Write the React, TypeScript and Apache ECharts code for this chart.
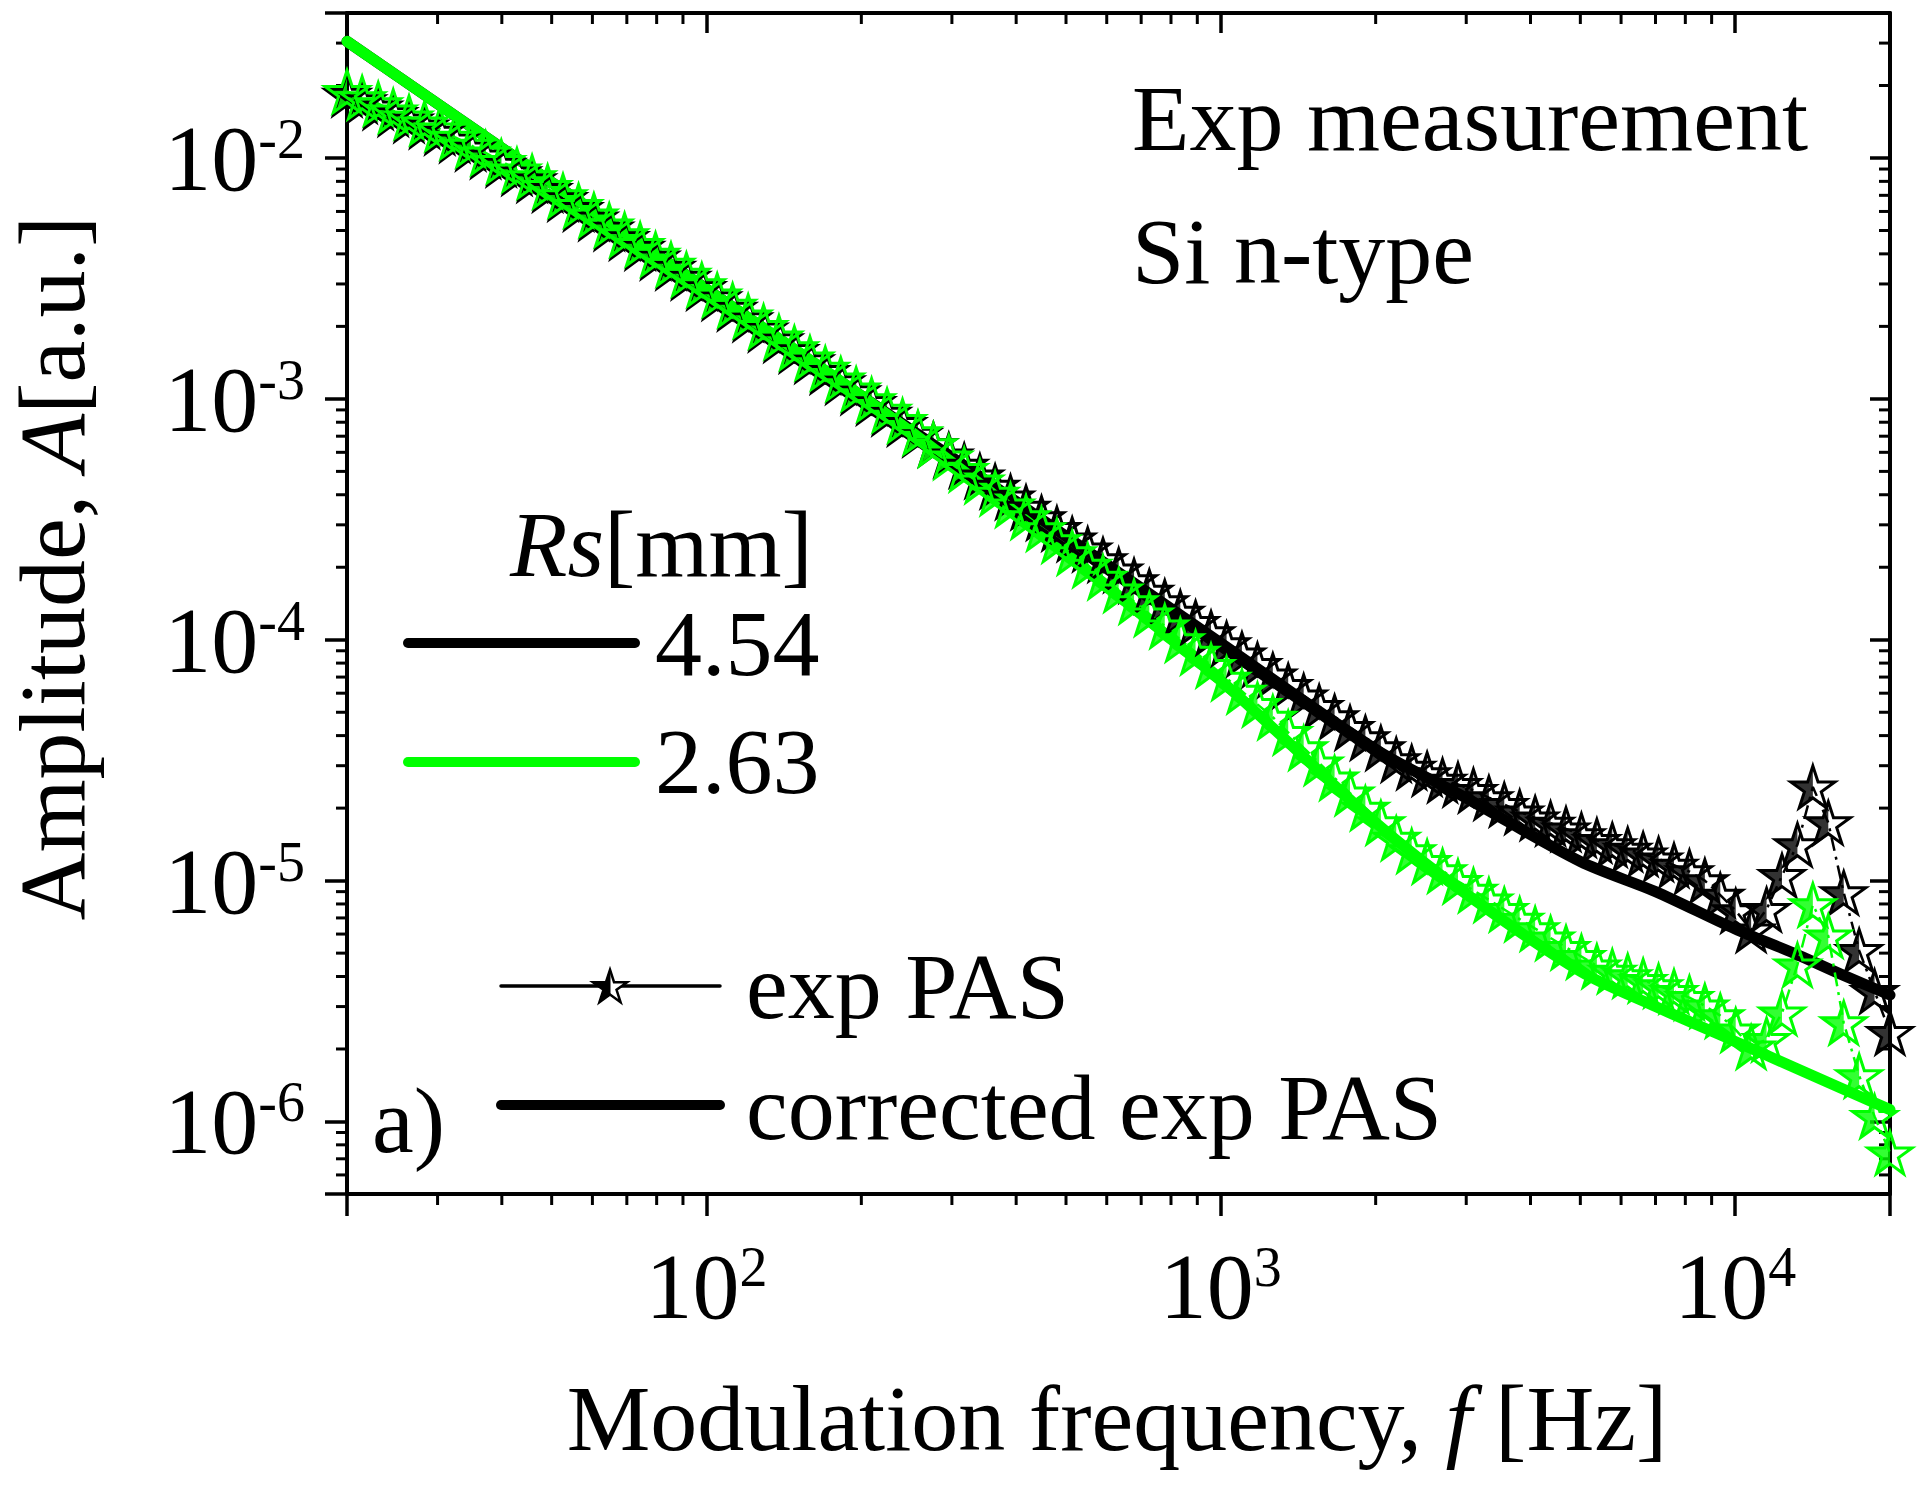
import React, { useEffect, useRef } from 'react';
import * as echarts from 'echarts';

// ---------------- data ----------------
const X_MIN = 20;
const X_MAX = 20000;
const Y_MIN = 5e-7;
const Y_MAX = 4e-2;

// modulation frequencies of the measured points [Hz]
const FREQ_EXP = [
  20, 21.4, 23.0, 24.6, 26.4, 28.3, 30.3, 32.4, 34.8, 37.2,
  39.9, 42.8, 45.8, 49.1, 52.6, 56.4, 60.4, 64.7, 69.3, 74.3,
  79.6, 85.3, 91.4, 97.9, 104.9, 112.4, 120.5, 129.1, 138.3, 148.2,
  158.9, 170.2, 182.4, 195.4, 209.4, 224.4, 240.5, 257.7, 276.1, 295.8,
  317, 340, 364, 390, 418, 448, 480, 514, 551, 590,
  633, 678, 726, 778, 834, 893, 957, 1026, 1099, 1178,
  1262, 1352, 1449, 1553, 1664, 1783, 1910, 2047, 2193, 2350,
  2518, 2698, 2891, 3098, 3320, 3557, 3811, 4084, 4376, 4689,
  5024, 5384, 5769, 6181, 6623, 7097, 7604, 8148, 8731, 9355,
  10024, 10741, 11509, 12332, 13214, 14159, 15172, 16257, 17419, 18665,
  20000,
];

// exp PAS, Rs = 4.54 mm (black)
const EXP_454 = [
  1.84e-2, 1.73e-2, 1.63e-2, 1.53e-2, 1.44e-2, 1.36e-2, 1.28e-2, 1.19e-2, 1.10e-2, 1.02e-2,
  9.42e-3, 8.69e-3, 8.13e-3, 7.41e-3, 6.79e-3, 6.18e-3, 5.64e-3, 5.13e-3, 4.68e-3, 4.26e-3,
  3.88e-3, 3.52e-3, 3.20e-3, 2.90e-3, 2.63e-3, 2.38e-3, 2.15e-3, 1.95e-3, 1.76e-3, 1.59e-3,
  1.44e-3, 1.30e-3, 1.18e-3, 1.07e-3, 9.66e-4, 8.73e-4, 7.91e-4, 7.14e-4, 6.47e-4, 5.85e-4,
  5.30e-4, 4.79e-4, 4.34e-4, 3.92e-4, 3.55e-4, 3.21e-4, 2.90e-4, 2.62e-4, 2.38e-4, 2.15e-4,
  1.95e-4, 1.76e-4, 1.59e-4, 1.44e-4, 1.30e-4, 1.18e-4, 1.07e-4, 9.64e-5, 8.73e-5, 7.89e-5,
  7.14e-5, 6.46e-5, 5.85e-5, 5.28e-5, 4.79e-5, 4.32e-5, 3.92e-5, 3.56e-5, 3.18e-5, 2.96e-5,
  2.78e-5, 2.61e-5, 2.51e-5, 2.37e-5, 2.21e-5, 2.07e-5, 1.93e-5, 1.82e-5, 1.73e-5, 1.64e-5,
  1.55e-5, 1.47e-5, 1.41e-5, 1.35e-5, 1.29e-5, 1.23e-5, 1.16e-5, 1.09e-5, 1.00e-5, 8.71e-6,
  7.50e-6, 6.24e-6, 7.59e-6, 1.05e-5, 1.41e-5, 2.45e-5, 1.74e-5, 8.91e-6, 5.13e-6, 3.47e-6,
  2.34e-6,
];

// exp PAS, Rs = 2.63 mm (green)
const EXP_263 = [
  1.89e-2, 1.78e-2, 1.68e-2, 1.57e-2, 1.48e-2, 1.40e-2, 1.32e-2, 1.22e-2, 1.13e-2, 1.05e-2,
  9.68e-3, 8.93e-3, 8.36e-3, 7.62e-3, 6.98e-3, 6.35e-3, 5.80e-3, 5.27e-3, 4.81e-3, 4.38e-3,
  3.99e-3, 3.62e-3, 3.29e-3, 2.98e-3, 2.70e-3, 2.45e-3, 2.21e-3, 2.00e-3, 1.81e-3, 1.63e-3,
  1.48e-3, 1.34e-3, 1.21e-3, 1.10e-3, 9.93e-4, 8.97e-4, 8.13e-4, 7.24e-4, 6.46e-4, 5.74e-4,
  5.10e-4, 4.56e-4, 4.06e-4, 3.63e-4, 3.24e-4, 2.89e-4, 2.58e-4, 2.30e-4, 2.04e-4, 1.82e-4,
  1.61e-4, 1.44e-4, 1.28e-4, 1.14e-4, 1.00e-4, 8.87e-5, 7.83e-5, 6.92e-5, 6.11e-5, 5.39e-5,
  4.77e-5, 4.12e-5, 3.56e-5, 3.08e-5, 2.67e-5, 2.31e-5, 2.00e-5, 1.74e-5, 1.50e-5, 1.33e-5,
  1.20e-5, 1.10e-5, 9.93e-6, 9.12e-6, 8.32e-6, 7.59e-6, 6.92e-6, 6.32e-6, 5.78e-6, 5.28e-6,
  4.84e-6, 4.42e-6, 4.21e-6, 4.03e-6, 3.85e-6, 3.66e-6, 3.47e-6, 3.27e-6, 3.02e-6, 2.75e-6,
  2.40e-6, 2.04e-6, 2.19e-6, 2.82e-6, 4.47e-6, 7.94e-6, 5.89e-6, 2.57e-6, 1.55e-6, 1.05e-6,
  7.41e-7,
];

// corrected exp PAS
const FREQ_CORR = [20, 50, 100, 200, 316, 500, 1000, 2000, 3000, 5000, 7000, 10000, 13000, 16000, 20000];
const CORR_454 = [3.05e-2, 7.93e-3, 2.86e-3, 1.03e-3, 5.31e-4, 2.69e-4, 9.7e-5, 3.51e-5, 2.2e-5, 1.2e-5, 9.0e-6, 6.3e-6, 5.0e-6, 4.1e-6, 3.35e-6];
const CORR_263 = [3.05e-2, 7.93e-3, 2.86e-3, 1.03e-3, 5.01e-4, 2.29e-4, 6.76e-5, 1.74e-5, 8.8e-6, 4.2e-6, 3.0e-6, 2.15e-6, 1.68e-6, 1.38e-6, 1.12e-6];

// minor tick values
const X_MINOR = [30, 40, 50, 60, 70, 80, 90, 200, 300, 400, 500, 600, 700, 800, 900,
  2000, 3000, 4000, 5000, 6000, 7000, 8000, 9000];
const Y_MINOR = [6e-7, 7e-7, 8e-7, 9e-7,
  2e-6, 3e-6, 4e-6, 5e-6, 6e-6, 7e-6, 8e-6, 9e-6,
  2e-5, 3e-5, 4e-5, 5e-5, 6e-5, 7e-5, 8e-5, 9e-5,
  2e-4, 3e-4, 4e-4, 5e-4, 6e-4, 7e-4, 8e-4, 9e-4,
  2e-3, 3e-3, 4e-3, 5e-3, 6e-3, 7e-3, 8e-3, 9e-3,
  2e-2, 3e-2];

const LEGEND_RS = ['4.54', '2.63'];
const COLORS = ['#000000', '#00ff00'];

// ---------------- styling ----------------
const FONT = 'Liberation Serif';
const FS = 94;
const STAR_PTS = [[50, 0], [61.23, 34.55], [97.55, 34.55], [68.17, 55.9], [79.39, 90.45], [50, 69.1], [20.61, 90.45], [31.83, 55.9], [2.45, 34.55], [38.77, 34.55]];
const STAR_HALF_PTS = [[50, 0], [50, 69.1], [20.61, 90.45], [31.83, 55.9], [2.45, 34.55], [38.77, 34.55]];
const toPath = (pts: number[][]) => 'M' + pts.map((p) => p.join(' ')).join('L') + 'Z';
const STAR_FULL = 'path://' + toPath(STAR_PTS);
const STAR_HALF = 'path://' + toPath(STAR_HALF_PTS) + 'M97.55 34.55L97.55 34.56Z';
const SYM = 44;

const pair = (xs: number[], ys: number[]) => xs.map((x, i) => [x, ys[i]]);

const tickFormatter = (v: number) => {
  const e = Math.log10(v);
  if (Math.abs(e - Math.round(e)) > 1e-6) return '';
  return '{b|10}{s|' + Math.round(e) + '}';
};
const tickRich = {
  b: { fontSize: FS, fontFamily: FONT, color: '#000', lineHeight: FS, verticalAlign: 'bottom' },
  s: { fontSize: 56, fontFamily: FONT, color: '#000', lineHeight: 40, verticalAlign: 'top' },
};

const axisLine = { show: true, onZero: false, lineStyle: { color: '#000', width: 4 } };

function expSeries(name: string, data: number[][], color: string) {
  return [
    {
      name,
      type: 'line',
      data,
      symbol: STAR_FULL,
      symbolSize: SYM,
      symbolKeepAspect: true,
      showAllSymbol: true,
      clip: false,
      lineStyle: { color, width: 2.5, type: [14, 6, 3, 6] },
      itemStyle: { color: 'rgba(255,255,255,0)', borderColor: color, borderWidth: 3 },
      emphasis: { disabled: true },
    },
    {
      name: name + ' fill',
      type: 'scatter',
      data,
      symbol: STAR_HALF,
      symbolSize: SYM,
      symbolKeepAspect: true,
      clip: false,
      itemStyle: { color, borderWidth: 0 },
      emphasis: { disabled: true },
    },
  ];
}

function corrSeries(name: string, data: number[][], color: string) {
  return {
    name,
    type: 'line',
    data,
    symbol: 'none',
    clip: true,
    smooth: 0.3,
    lineStyle: { color, width: 11, cap: 'round', join: 'round' },
    emphasis: { disabled: true },
  };
}

function legendStar(cx: number, cy: number, size: number) {
  const map = (pts: number[][]) => pts.map(([px, py]) => [cx + ((px - 50) * size) / 100, cy + ((py - 45.2) * size) / 100]);
  return [
    { type: 'polygon', shape: { points: map(STAR_PTS) }, style: { fill: '#fff', stroke: '#000', lineWidth: 2.5 }, z: 20 },
    { type: 'polygon', shape: { points: map(STAR_HALF_PTS) }, style: { fill: '#000', stroke: '#000', lineWidth: 1 }, z: 21 },
  ];
}

const txt = (text: string, x: number, y: number, extra: any = {}) => ({
  type: 'text',
  x,
  y,
  z: 20,
  style: { text, fontSize: FS, fontFamily: FONT, fill: '#000', align: 'left', verticalAlign: 'middle', ...extra },
});

export default function App() {
  const ref = useRef<HTMLDivElement>(null);

  useEffect(() => {
    if (!ref.current) return;
    const chart = echarts.init(ref.current, undefined, { renderer: 'svg' });

    const minorTickSeries = (axis: 'x' | 'y') => ({
      type: 'custom',
      silent: true,
      clip: false,
      z: 1,
      data: axis === 'x' ? X_MINOR.map((v) => [v, Y_MIN]) : Y_MINOR.map((v) => [X_MIN, v]),
      renderItem: (params: any, api: any) => {
        const cs = params.coordSys;
        const p = api.coord([api.value(0), api.value(1)]);
        const st = { stroke: '#000', lineWidth: 3 };
        if (axis === 'x') {
          const b = cs.y + cs.height;
          return {
            type: 'group',
            children: [
              { type: 'line', shape: { x1: p[0], y1: b, x2: p[0], y2: b + 11 }, style: st },
              { type: 'line', shape: { x1: p[0], y1: cs.y, x2: p[0], y2: cs.y + 11 }, style: st },
            ],
          };
        }
        const r = cs.x + cs.width;
        return {
          type: 'group',
          children: [
            { type: 'line', shape: { x1: cs.x - 11, y1: p[1], x2: cs.x, y2: p[1] }, style: st },
            { type: 'line', shape: { x1: r - 11, y1: p[1], x2: r, y2: p[1] }, style: st },
          ],
        };
      },
    });

    const graphics: any[] = [
      txt('Exp measurement', 1132, 118),
      txt('Si n-type', 1132, 251),
      txt('{i|Rs}{n|[mm]}', 510, 544, {
        rich: {
          i: { fontSize: FS, fontFamily: FONT, fontStyle: 'italic', color: '#000' },
          n: { fontSize: FS, fontFamily: FONT, color: '#000' },
        },
      }),
      { type: 'line', z: 20, shape: { x1: 408, y1: 643, x2: 635, y2: 643 }, style: { stroke: COLORS[0], lineWidth: 10, lineCap: 'round' } },
      txt(LEGEND_RS[0], 655, 643),
      { type: 'line', z: 20, shape: { x1: 408, y1: 762, x2: 635, y2: 762 }, style: { stroke: COLORS[1], lineWidth: 10, lineCap: 'round' } },
      txt(LEGEND_RS[1], 655, 761),
      { type: 'line', z: 20, shape: { x1: 501, y1: 986, x2: 720, y2: 986 }, style: { stroke: '#000', lineWidth: 3.5, lineCap: 'round' } },
      ...legendStar(610, 986, 36),
      txt('exp PAS', 746, 986),
      { type: 'line', z: 20, shape: { x1: 501, y1: 1105, x2: 720, y2: 1105 }, style: { stroke: '#000', lineWidth: 10, lineCap: 'round' } },
      txt('corrected exp PAS', 746, 1107),
      txt('a)', 372, 1120),
      txt('{n|Modulation frequency, }{i|f}{n| [Hz]}', 1117, 1418, {
        align: 'center',
        rich: {
          i: { fontSize: FS, fontFamily: FONT, fontStyle: 'italic', color: '#000' },
          n: { fontSize: FS, fontFamily: FONT, color: '#000' },
        },
      }),
      {
        ...txt('{n|Amplitude, }{i|A}{n|[a.u.]}', 52, 568, {
          align: 'center',
          rich: {
            i: { fontSize: FS, fontFamily: FONT, fontStyle: 'italic', color: '#000' },
            n: { fontSize: FS, fontFamily: FONT, color: '#000' },
          },
        }),
        rotation: Math.PI / 2,
      },
    ];

    const option: any = {
      animation: false,
      backgroundColor: '#ffffff',
      grid: { left: 347, right: 35, top: 13, bottom: 292, containLabel: false, outerBoundsMode: 'none' },
      xAxis: [
        {
          type: 'log', logBase: 10, min: X_MIN, max: X_MAX, position: 'bottom',
          axisLine,
          axisTick: { show: true, inside: false, length: 22, lineStyle: { color: '#000', width: 3.5 } },
          axisLabel: { show: true, margin: 45, formatter: tickFormatter, rich: tickRich, color: '#000' },
          splitLine: { show: false },
        },
        {
          type: 'log', logBase: 10, min: X_MIN, max: X_MAX, position: 'top',
          axisLine,
          axisTick: { show: true, inside: true, length: 20, lineStyle: { color: '#000', width: 3.5 } },
          axisLabel: { show: false },
          splitLine: { show: false },
        },
      ],
      yAxis: [
        {
          type: 'log', logBase: 10, min: Y_MIN, max: Y_MAX, position: 'left',
          axisLine,
          axisTick: { show: true, inside: false, length: 22, lineStyle: { color: '#000', width: 3.5 } },
          axisLabel: { show: true, margin: 42, formatter: tickFormatter, rich: tickRich, color: '#000' },
          splitLine: { show: false },
        },
        {
          type: 'log', logBase: 10, min: Y_MIN, max: Y_MAX, position: 'right',
          axisLine,
          axisTick: { show: true, inside: true, length: 20, lineStyle: { color: '#000', width: 3.5 } },
          axisLabel: { show: false },
          splitLine: { show: false },
        },
      ],
      series: [
        minorTickSeries('x'),
        minorTickSeries('y'),
        ...expSeries('exp PAS 4.54', pair(FREQ_EXP, EXP_454), COLORS[0]),
        corrSeries('corrected exp PAS 4.54', pair(FREQ_CORR, CORR_454), COLORS[0]),
        ...expSeries('exp PAS 2.63', pair(FREQ_EXP, EXP_263), COLORS[1]),
        corrSeries('corrected exp PAS 2.63', pair(FREQ_CORR, CORR_263), COLORS[1]),
      ],
      graphic: graphics,
    };

    chart.setOption(option);
    return () => chart.dispose();
  }, []);

  return (
    <div
      ref={ref}
      style={{ position: 'absolute', left: 0, top: 0, width: 1925, height: 1486, background: '#fff' }}
    />
  );
}
